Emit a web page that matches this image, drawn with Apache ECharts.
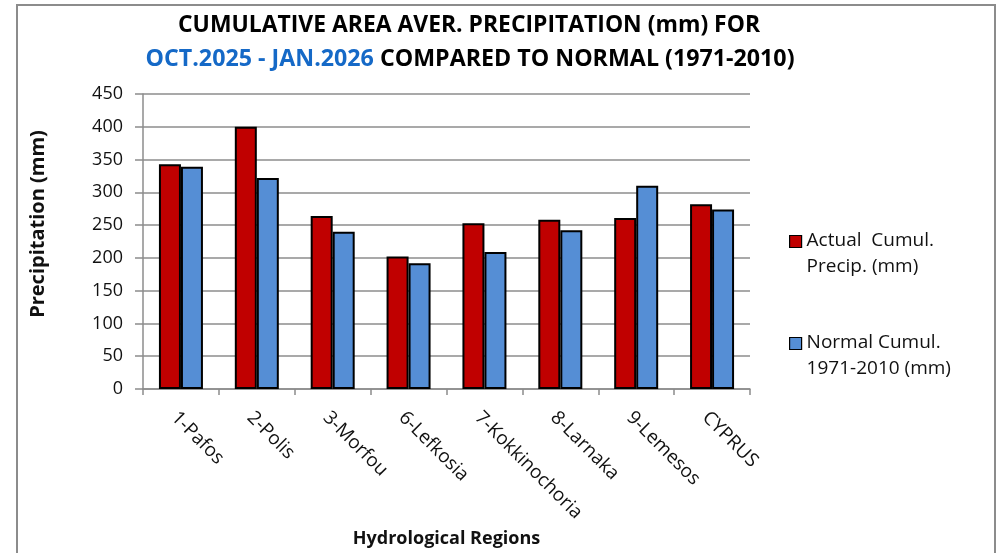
<!DOCTYPE html>
<html>
<head>
<meta charset="utf-8">
<script src="https://cdn.jsdelivr.net/npm/echarts@6/dist/echarts.min.js"></script>
<style>
html,body{margin:0;padding:0;background:#fff;overflow:hidden;}
#chart{width:1001px;height:553px;}
</style>
</head>
<body>
<div id="chart"></div>
<script>
var categories = ['1-Pafos','2-Polis','3-Morfou','6-Lefkosia','7-Kokkinochoria','8-Larnaka','9-Lemesos','CYPRUS'];
var actualCumul = [343, 400, 264, 202, 253, 258, 261, 282];
var normalCumul = [339, 322, 240, 192, 209, 242, 310, 274];
var yTicks = [0, 50, 100, 150, 200, 250, 300, 350, 400, 450];
var seriesNames = ['Actual  Cumul.\nPrecip. (mm)', 'Normal Cumul.\n1971-2010 (mm)'];
var titleLine1 = 'CUMULATIVE AREA AVER. PRECIPITATION (mm) FOR';
var titleLine2a = 'OCT.2025 - JAN.2026';
var titleLine2b = ' COMPARED TO NORMAL (1971-2010)';

var FONT = '"Open Sans", "Noto Sans", sans-serif';
var TFONT = 'bold 23px "Open Sans", sans-serif';

function measure(txt, font){
  var c = document.createElement('canvas').getContext('2d');
  c.font = font;
  return c.measureText(txt).width;
}
var s1 = 582 / measure(titleLine1, TFONT);
var s2 = 649 / measure(titleLine2a + titleLine2b, TFONT);

var legendIcon = 'path://M0,0L12,0L12,12L0,12Z M0,37';

var chart = echarts.init(document.getElementById('chart'), null, {renderer:'canvas'});
var option = {
  animation: false,
  backgroundColor: '#ffffff',
  textStyle: {fontFamily: FONT},
  grid: {left: 143, width: 607, top: 94, height: 295, containLabel: false},
  legend: {
    orient: 'vertical',
    left: 789,
    top: 228,
    padding: 0,
    itemWidth: 12,
    itemHeight: 37,
    itemGap: 50,
    icon: legendIcon,
    data: seriesNames,
    textStyle: {fontFamily: FONT, fontSize: 19, color: '#111', lineHeight: 26},
    itemStyle: {borderColor: '#000', borderWidth: 1.2}
  },
  xAxis: {
    type: 'category',
    data: categories,
    boundaryGap: true,
    axisLine: {show: true, lineStyle: {color: '#8c8c8c', width: 1.5}},
    axisTick: {show: true, length: 6, lineStyle: {color: '#8c8c8c', width: 1.5}},
    axisLabel: {rotate: -45, fontSize: 19, color: '#111', fontFamily: FONT, margin: 19, interval: 0, verticalAlign: 'top'},
    name: 'Hydrological Regions',
    nameLocation: 'middle',
    nameGap: 140,
    nameTextStyle: {fontWeight: 'bold', fontSize: 18, color: '#111', fontFamily: FONT},
    splitLine: {show: false}
  },
  yAxis: {
    type: 'value',
    min: yTicks[0],
    max: yTicks[yTicks.length - 1],
    interval: yTicks[1] - yTicks[0],
    axisLine: {show: true, lineStyle: {color: '#8c8c8c', width: 1.5}},
    axisTick: {show: true, length: 8, lineStyle: {color: '#8c8c8c', width: 1.5}},
    axisLabel: {fontSize: 18, color: '#111', fontFamily: FONT, margin: 20},
    splitLine: {show: true, lineStyle: {color: '#8c8c8c', width: 1.5}}
  },
  series: [
    {
      name: seriesNames[0], type: 'bar', data: actualCumul,
      barWidth: 22, barGap: '0%',
      itemStyle: {color: '#C00000', borderColor: '#000', borderWidth: 2}
    },
    {
      name: seriesNames[1], type: 'bar', data: normalCumul,
      barWidth: 22, barGap: '0%',
      itemStyle: {color: '#558ED5', borderColor: '#000', borderWidth: 2}
    }
  ],
  graphic: [
    {type: 'rect', shape: {x: 17, y: 5, width: 978, height: 600},
     style: {fill: 'none', stroke: '#8c8c8c', lineWidth: 2}, silent: true, z: -1},
    {type: 'text', x: 469, y: 25, scaleX: s1, scaleY: 1,
     style: {text: titleLine1, font: TFONT, fill: '#000', textAlign: 'center', textVerticalAlign: 'middle'}},
    {type: 'text', x: 470, y: 59, scaleX: s2, scaleY: 1,
     style: {text: '{b|' + titleLine2a + '}{k|' + titleLine2b + '}', font: TFONT, textAlign: 'center', textVerticalAlign: 'middle',
       rich: {b: {fill: '#1569C7', font: TFONT}, k: {fill: '#000', font: TFONT}}}},
    {type: 'text', x: 38, y: 224, rotation: Math.PI / 2,
     style: {text: 'Precipitation (mm)', font: 'bold 20px "Open Sans", sans-serif', fill: '#111', textAlign: 'center', textVerticalAlign: 'middle'}}
  ]
};
chart.setOption(option);
</script>
</body>
</html>
